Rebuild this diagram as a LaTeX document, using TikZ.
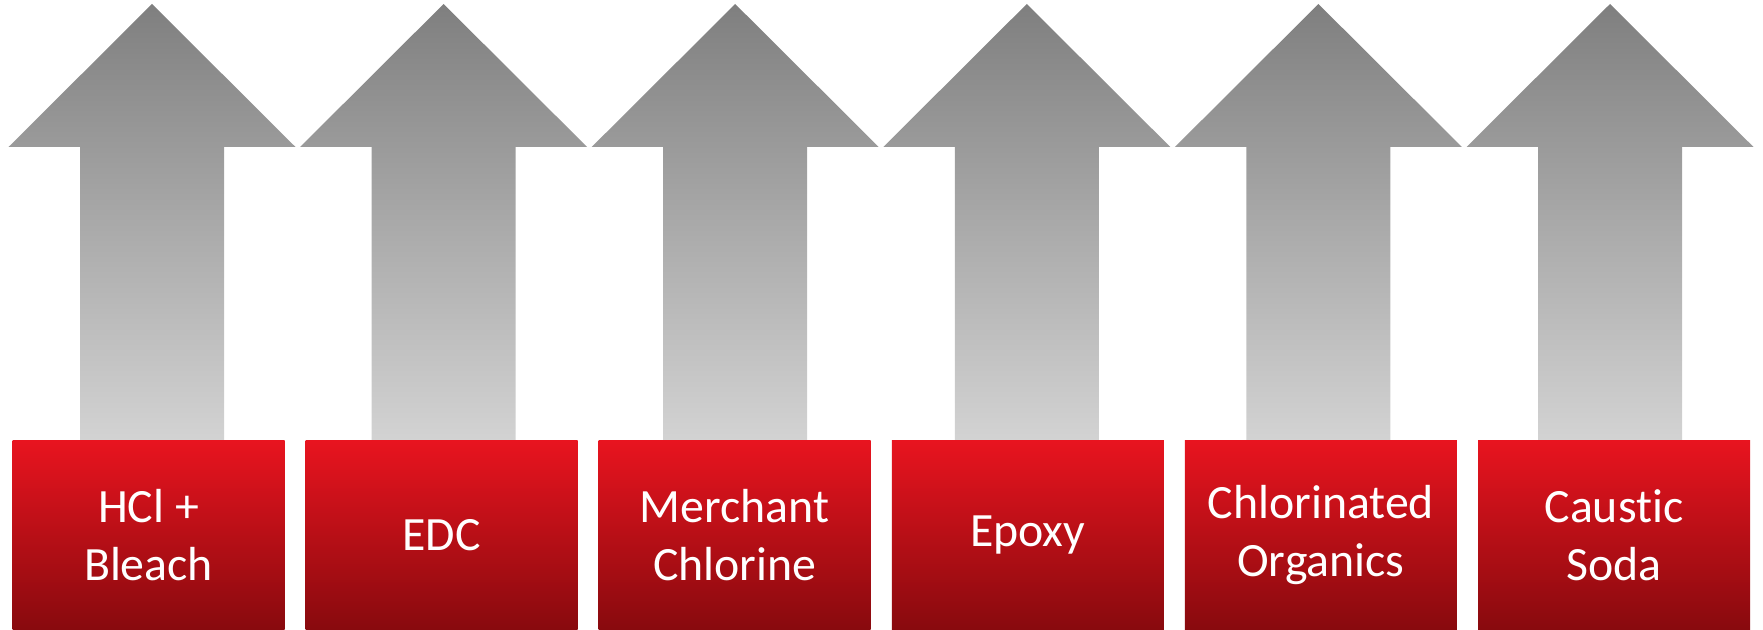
\documentclass[tikz,border=0pt]{standalone}
\usepackage{fontspec}
\setmainfont[Ligatures=NoCommon]{Carlito}
\definecolor{redtop}{HTML}{E8141F}
\definecolor{redbot}{HTML}{880A0E}
\definecolor{greytop}{HTML}{7F7F7F}
\definecolor{greybot}{HTML}{D3D3D3}

\begin{document}
\begin{tikzpicture}[
    every node/.style={font=\fontsize{13.6}{16.4}\selectfont, text=white, align=center},
    product/.style={rectangle, minimum width=2.72cm, minimum height=1.88cm, inner sep=0pt, top color=redtop, bottom color=redbot},
    uparrow/.style={top color=greytop, bottom color=greybot}
]
    \useasboundingbox (0,0) rectangle (17.63,6.29);

    % Arrows behind the boxes
    \shade[uparrow] (1.52,6.25) -- ++(-1.435,-1.43) -- ++(0.715,0) -- ++(0,-2.94) -- ++(1.44,0) -- ++(0,2.94) -- ++(0.715,0) -- cycle;
    \shade[uparrow] (4.436,6.25) -- ++(-1.435,-1.43) -- ++(0.715,0) -- ++(0,-2.94) -- ++(1.44,0) -- ++(0,2.94) -- ++(0.715,0) -- cycle;
    \shade[uparrow] (7.352,6.25) -- ++(-1.435,-1.43) -- ++(0.715,0) -- ++(0,-2.94) -- ++(1.44,0) -- ++(0,2.94) -- ++(0.715,0) -- cycle;
    \shade[uparrow] (10.268,6.25) -- ++(-1.435,-1.43) -- ++(0.715,0) -- ++(0,-2.94) -- ++(1.44,0) -- ++(0,2.94) -- ++(0.715,0) -- cycle;
    \shade[uparrow] (13.184,6.25) -- ++(-1.435,-1.43) -- ++(0.715,0) -- ++(0,-2.94) -- ++(1.44,0) -- ++(0,2.94) -- ++(0.715,0) -- cycle;
    \shade[uparrow] (16.10,6.25) -- ++(-1.435,-1.43) -- ++(0.715,0) -- ++(0,-2.94) -- ++(1.44,0) -- ++(0,2.94) -- ++(0.715,0) -- cycle;

    % Product boxes
    \node[product] (hcl) at (1.485,0.94) {HCl +\\Bleach};
    \node[product] (edc) at (4.416,0.94) {EDC};
    \node[product] (merchant) at (7.347,0.94) {Merchant\\Chlorine};
    \node[product] (epoxy) at (10.278,0.94) {Epoxy};
    \node[product] (organics) at (13.209,0.94) {Chlorinated\\Organics};
    \node[product] (caustic) at (16.14,0.94) {Caustic\\Soda};

\end{tikzpicture}
\end{document}
